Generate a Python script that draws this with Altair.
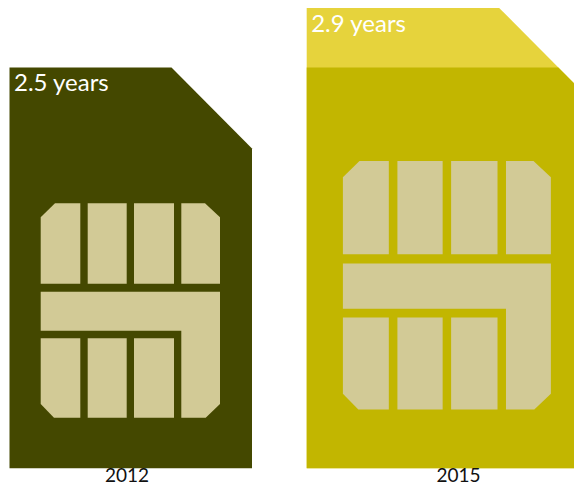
import altair as alt
import pandas as pd

# Average lifespan shown by each SIM card: card size is proportional to the value
years = ["2012", "2015"]
values = [2.5, 2.9]
labels = ["2.5 years", "2.9 years"]
origins = [9.5, 306.7]
year_label_x = [127, 458.5]
label_drop = [16.5, 21.2]

# SIM outline at the 2.5-year size: x, top
outline_x = [0, 162, 242.5]
outline_top = [400.7, 400.7, 319.7]

# Contact pads at the 2.5-year size: name, x, top, bottom
pad_x = {
    "p1": [31.2, 45.5, 70.8],
    "p2": [78.2, 117.2],
    "p3": [124.5, 164.5],
    "p4": [171.8, 195.5, 210.5],
    "l": [31.2, 171.8, 171.8, 196.2, 210.5],
    "q1": [31.2, 44.5, 70.8],
    "q2": [78.2, 117.2],
    "q3": [124.5, 164.5],
}
pad_top = {
    "p1": [250.9, 264.9, 264.9],
    "p2": [264.9, 264.9],
    "p3": [264.9, 264.9],
    "p4": [264.9, 264.9, 250.9],
    "l": [176.5, 176.5, 176.5, 176.5, 176.5],
    "q1": [129.9, 129.9, 129.9],
    "q2": [129.9, 129.9],
    "q3": [129.9, 129.9],
}
pad_bottom = {
    "p1": [184.5, 184.5, 184.5],
    "p2": [184.5, 184.5],
    "p3": [184.5, 184.5],
    "p4": [184.5, 184.5, 184.5],
    "l": [137.5, 137.5, 50.5, 50.5, 64.2],
    "q1": [64.2, 50.5, 50.5],
    "q2": [50.5, 50.5],
    "q3": [50.5, 50.5],
}

BASE_VALUE = values[0]
BOTTOM = 468.2  # page position of the card baseline
LEFT, TOP = 8, 8
W, H = 566, 478

card_rows, extra_rows, pad_rows = [], [], []
for yr, val, ox in zip(years, values, origins):
    k = val / BASE_VALUE
    pts = [(ox + x * k, t * k) for x, t in zip(outline_x, outline_top)]
    # the part of the card above the baseline value is highlighted
    if k > 1:
        for x, t in pts:
            extra_rows.append({"card": yr, "x": x, "top": t, "bottom": 0, "part": "extra"})
        (x1, t1), (x2, t2) = pts[1], pts[2]
        cut = outline_top[0]
        xc = x1 + (t1 - cut) / (t1 - t2) * (x2 - x1)
        clipped = [(pts[0][0], cut), (xc, cut), (x2, t2)]
    else:
        clipped = pts
    for x, t in clipped:
        card_rows.append({"card": yr, "x": x, "top": t, "bottom": 0, "part": "card" + yr})
    for name in pad_x:
        for x, t, b in zip(pad_x[name], pad_top[name], pad_bottom[name]):
            pad_rows.append({"card": yr, "pad": yr + name, "x": ox + x * k,
                             "top": t * k, "bottom": b * k, "part": "pad"})

x_scale = alt.Scale(domain=[LEFT, LEFT + W], range=[0, W], nice=False, zero=False)
y_scale = alt.Scale(domain=[BOTTOM - (TOP + H), BOTTOM - TOP], range=[H, 0], nice=False, zero=False)
color_scale = alt.Scale(
    domain=["card2012", "card2015", "extra", "pad"],
    range=["#444800", "#c2b600", "#e6d33c", "#d2ca96"],
)


def area_layer(rows, group):
    return (
        alt.Chart(pd.DataFrame(rows))
        .mark_area(interpolate="linear", clip=True)
        .encode(
            x=alt.X("x:Q", scale=x_scale, axis=None),
            y=alt.Y("top:Q", scale=y_scale, axis=None),
            y2="bottom:Q",
            detail=f"{group}:N",
            color=alt.Color("part:N", scale=color_scale, legend=None),
        )
    )


value_df = pd.DataFrame({
    "x": origins,
    "top": [v / BASE_VALUE * outline_top[0] - d for v, d in zip(values, label_drop)],
    "label": labels,
})
year_df = pd.DataFrame({"x": year_label_x, "y": [BOTTOM - 476] * 2, "label": years})

value_text = (
    alt.Chart(value_df)
    .mark_text(align="left", baseline="middle", dx=4.5, font="Lato", fontSize=24, color="white")
    .encode(x=alt.X("x:Q", scale=x_scale, axis=None), y=alt.Y("top:Q", scale=y_scale, axis=None), text="label:N")
)
year_text = (
    alt.Chart(year_df)
    .mark_text(align="center", baseline="middle", font="Lato", fontSize=19, color="#111111")
    .encode(x=alt.X("x:Q", scale=x_scale, axis=None), y=alt.Y("y:Q", scale=y_scale, axis=None), text="label:N")
)

chart = (
    alt.layer(
        area_layer(extra_rows, "card"),
        area_layer(card_rows, "card"),
        area_layer(pad_rows, "pad"),
        value_text,
        year_text,
    )
    .properties(width=W, height=H, padding=0, autosize=alt.AutoSizeParams(type="none"))
    .configure_view(stroke=None)
)

chart.save("out.html", embed_options={"renderer": "svg", "actions": False})
